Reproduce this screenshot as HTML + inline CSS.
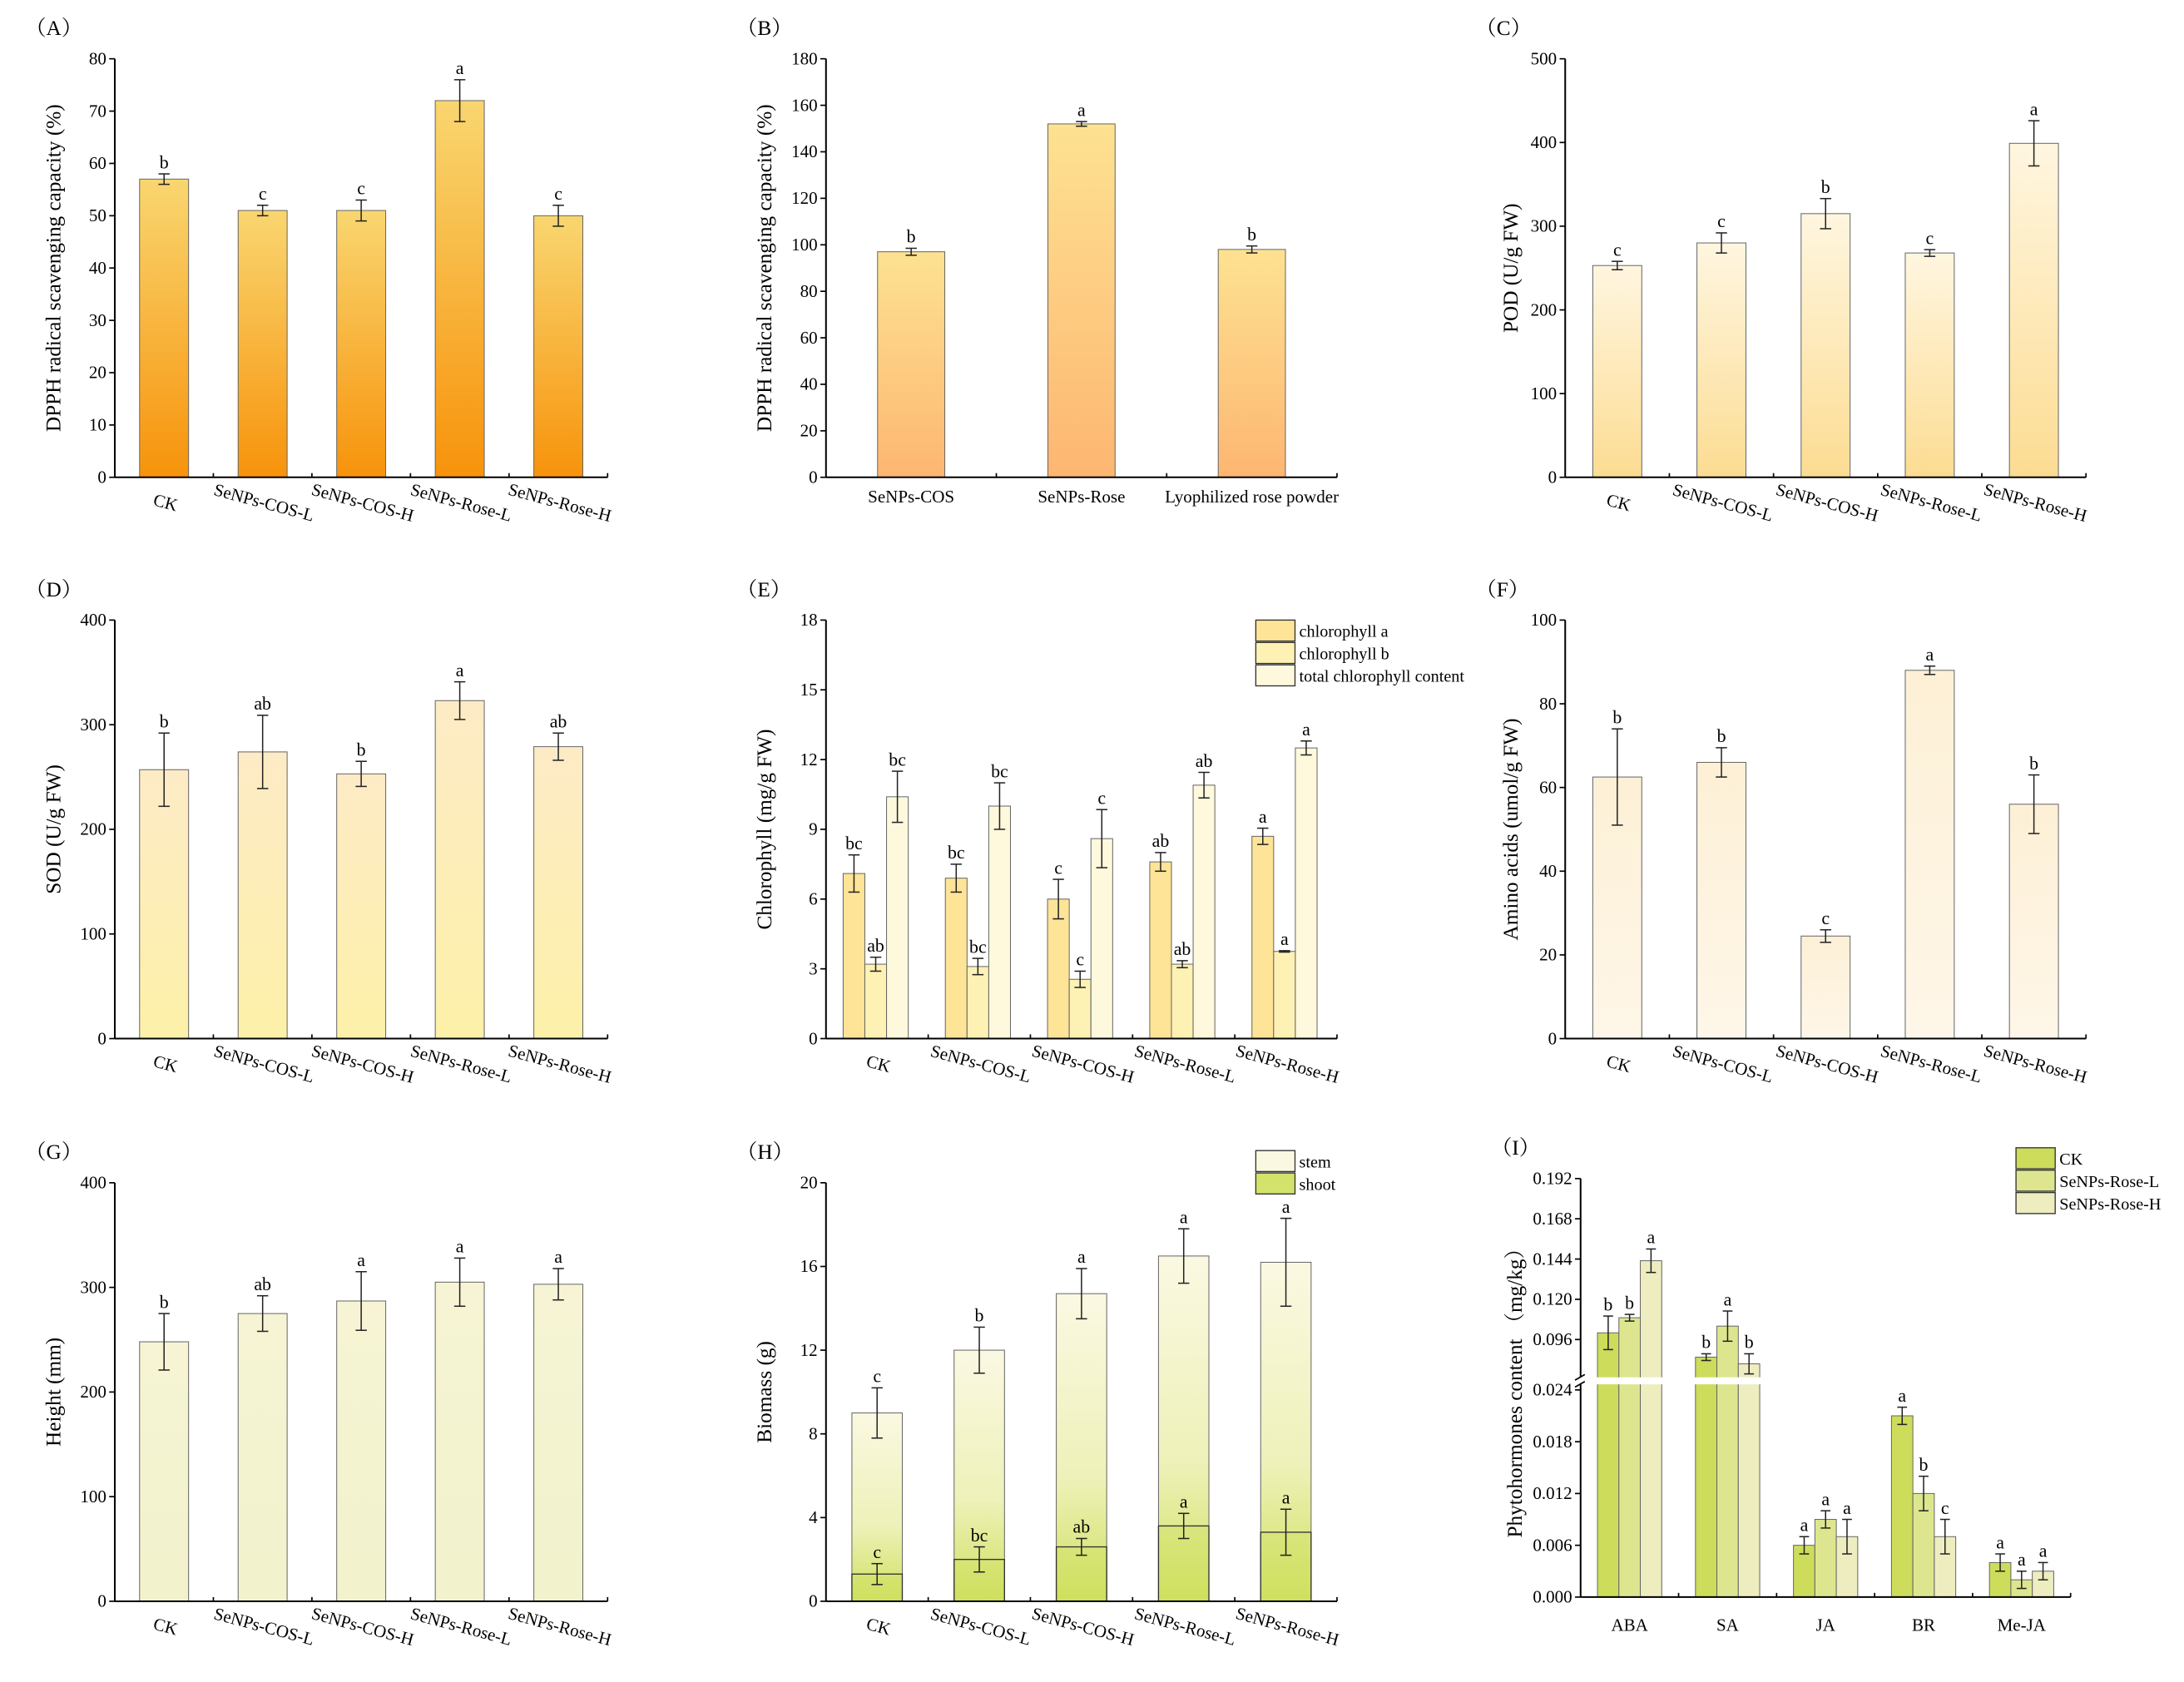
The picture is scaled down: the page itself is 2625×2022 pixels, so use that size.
<!DOCTYPE html>
<html><head><meta charset="utf-8"><style>
html,body{margin:0;padding:0;background:#fff;}
svg, svg text{font-family:"Liberation Serif","Times New Roman",Times,"Noto Serif CJK SC",serif;}
</style></head><body>
<svg id="fig" xmlns="http://www.w3.org/2000/svg" width="2625" height="2017" viewBox="0 0 1560 1198.7" preserveAspectRatio="none" font-family="Liberation Serif, Times New Roman, serif">
<defs>
<linearGradient id="gA" x1="0" y1="0" x2="0" y2="1"><stop offset="0" stop-color="#f9d670"/><stop offset="1" stop-color="#f7930b"/></linearGradient>
<linearGradient id="gB" x1="0" y1="0" x2="0" y2="1"><stop offset="0" stop-color="#fde291"/><stop offset="1" stop-color="#fdb672"/></linearGradient>
<linearGradient id="gC" x1="0" y1="0" x2="0" y2="1"><stop offset="0" stop-color="#fff6e0"/><stop offset="1" stop-color="#fcdc92"/></linearGradient>
<linearGradient id="gD" x1="0" y1="0" x2="0" y2="1"><stop offset="0" stop-color="#fdebc6"/><stop offset="1" stop-color="#fdf0a8"/></linearGradient>
<linearGradient id="gF" x1="0" y1="0" x2="0" y2="1"><stop offset="0" stop-color="#fdf0d6"/><stop offset="1" stop-color="#fef6e8"/></linearGradient>
<linearGradient id="gG" x1="0" y1="0" x2="0" y2="1"><stop offset="0" stop-color="#f6f4d4"/><stop offset="1" stop-color="#f2f2cc"/></linearGradient>
<linearGradient id="gH" x1="0" y1="0" x2="0" y2="1"><stop offset="0" stop-color="#fbf8e2"/><stop offset="0.6" stop-color="#eef1b8"/><stop offset="1" stop-color="#cfe05e"/></linearGradient>
</defs>
</svg>
<script>
const catsMain = ["CK","SeNPs-COS-L","SeNPs-COS-H","SeNPs-Rose-L","SeNPs-Rose-H"];
const valsA = [57,51,51,72,50];
const errA = [1,1,2,4,2];
const letA = ["b","c","c","a","c"];
const ticksA = [0,10,20,30,40,50,60,70,80];
const catsB = ["SeNPs-COS","SeNPs-Rose","Lyophilized  rose powder"];
const valsB = [97,152,98];
const errB = [1.5,1,1.5];
const letB = ["b","a","b"];
const ticksB = [0,20,40,60,80,100,120,140,160,180];
const valsC = [253,280,315,268,399];
const errC = [5,12,18,4,27];
const letC = ["c","c","b","c","a"];
const ticksC = [0,100,200,300,400,500];
const valsD = [257,274,253,323,279];
const errD = [35,35,12,18,13];
const letD = ["b","ab","b","a","ab"];
const ticksD = [0,100,200,300,400];
const chlA = [7.1,6.9,6.0,7.6,8.7];
const chlAErr = [0.8,0.6,0.85,0.4,0.35];
const chlALet = ["bc","bc","c","ab","a"];
const chlB = [3.2,3.1,2.55,3.2,3.75];
const chlBErr = [0.3,0.35,0.35,0.15,0.03];
const chlBLet = ["ab","bc","c","ab","a"];
const chlT = [10.4,10.0,8.6,10.9,12.5];
const chlTErr = [1.1,1.0,1.25,0.55,0.3];
const chlTLet = ["bc","bc","c","ab","a"];
const ticksE = [0,3,6,9,12,15,18];
const valsF = [62.5,66,24.5,88,56];
const errF = [11.5,3.5,1.5,1,7];
const letF = ["b","b","c","a","b"];
const ticksF = [0,20,40,60,80,100];
const valsG = [248,275,287,305,303];
const errG = [27,17,28,23,15];
const letG = ["b","ab","a","a","a"];
const ticksG = [0,100,200,300,400];
const stemH = [9.0,12.0,14.7,16.5,16.2];
const stemErr = [1.2,1.1,1.2,1.3,2.1];
const stemLet = ["c","b","a","a","a"];
const shootH = [1.3,2.0,2.6,3.6,3.3];
const shootErr = [0.5,0.6,0.4,0.6,1.1];
const shootLet = ["c","bc","ab","a","a"];
const ticksH = [0,4,8,12,16,20];
const catsI = ["ABA","SA","JA","BR","Me-JA"];
const iCK = [0.100,0.0855,0.006,0.021,0.004];
const iCKErr = [0.010,0.002,0.001,0.001,0.001];
const iCKLet = ["b","b","a","a","a"];
const iL = [0.109,0.104,0.009,0.012,0.002];
const iLErr = [0.002,0.009,0.001,0.002,0.001];
const iLLet = ["b","a","a","b","a"];
const iH = [0.143,0.0815,0.007,0.007,0.003];
const iHErr = [0.007,0.006,0.002,0.002,0.001];
const iHLet = ["a","b","a","c","a"];
const ticksILow = [0,0.006,0.012,0.018,0.024];
const ticksIHigh = [0.096,0.120,0.144,0.168,0.192];

const svg = document.getElementById('fig');
const NS = "http://www.w3.org/2000/svg";
const FONT = "Liberation Serif, Times New Roman, Times, Noto Serif CJK SC, serif";
function el(tag, attrs, parent){const e=document.createElementNS(NS,tag);for(const k in attrs)e.setAttribute(k,attrs[k]);(parent||svg).appendChild(e);return e;}
function txt(s, attrs, parent){attrs['font-family']=FONT;const e=el('text',attrs,parent);e.textContent=s;return e;}

function makePanel(name, label, xl, xr, yt, yb, min, max, n){
  const g = el('g',{});
  
  
  const p = {g,xl,xr,yt,yb,min,max,n};
  p.y = v => yb - (v-min)/(max-min)*(yb-yt);
  p.cx = i => xl + (i+0.5)*(xr-xl)/n;
  p.cw = (xr-xl)/n;
  const lab = txt(label,{x:xl-64,y:yt-17,'font-size':15},g);
  
  
  return p;
}
function axes(p, ticks, fmt, title, titleX){
  const g=p.g;
  const ya = el('line',{x1:p.xl,y1:p.yt,x2:p.xl,y2:p.yb,stroke:'#000','stroke-width':1.2},g);
  
  
  const xa = el('line',{x1:p.xl,y1:p.yb,x2:p.xr,y2:p.yb,stroke:'#000','stroke-width':1.2},g);
  
  
  ticks.forEach(t=>{
    const y=p.y(t);
    el('line',{x1:p.xl-4,y1:y,x2:p.xl,y2:y,stroke:'#000','stroke-width':1},g);
    const tl = txt(fmt(t),{x:p.xl-6,y:y+4,'font-size':12.5,'text-anchor':'end'},g);
    
    
  });
  for(let i=1;i<=p.n;i++){const x=p.xl+i*p.cw;el('line',{x1:x,y1:p.yb,x2:x,y2:p.yb-3,stroke:'#000','stroke-width':1},g);}
  const mid=(p.yt+p.yb)/2;
  const t = txt(title,{x:titleX,y:mid,'font-size':15,'text-anchor':'middle',transform:`rotate(-90 ${titleX} ${mid})`},g);
  
  
}
function rotLabels(p, cats){
  cats.forEach((c,i)=>{
    const x=p.cx(i), y=p.yb+22;
    const t=txt(c,{x:x,y:y,'font-size':12.5,'text-anchor':'middle',transform:`rotate(15 ${x} ${y})`},p.g);
    
    
  });
}
function flatLabels(p, cats, dy){
  cats.forEach((c,i)=>{
    const t=txt(c,{x:p.cx(i),y:p.yb+(dy||18),'font-size':12.5,'text-anchor':'middle','xml:space':'preserve'},p.g);
    
    
  });
}
function bar(p, x, w, v, fill, name, yfun){
  const yf = yfun||p.y;
  const r = el('rect',{x:x-w/2,y:yf(v),width:w,height:p.yb-yf(v),fill:fill,stroke:'#666','stroke-width':0.6},p.g);
  
  
  return r;
}
function errbar(p, x, v, e, letter, yfun, capW){
  const yf=yfun||p.y; const c=(capW||8)/2;
  const y1=yf(v+e), y2=yf(v-e);
  el('line',{x1:x,y1:y1,x2:x,y2:y2,stroke:'#222','stroke-width':0.9},p.g);
  el('line',{x1:x-c,y1:y1,x2:x+c,y2:y1,stroke:'#222','stroke-width':0.9},p.g);
  el('line',{x1:x-c,y1:y2,x2:x+c,y2:y2,stroke:'#222','stroke-width':0.9},p.g);
  if(letter){const t=txt(letter,{x:x,y:y1-4,'font-size':13,'text-anchor':'middle'},p.g);
    
    }
}
function simple(name,label,xl,xr,yt,yb,ticks,vals,errs,lets,grad,title,titleX,cats,bw,rot){
  const p=makePanel(name,label,xl,xr,yt,yb,ticks[0],ticks[ticks.length-1],vals.length);
  vals.forEach((v,i)=>{bar(p,p.cx(i),bw,v,grad,'bar-'+i);errbar(p,p.cx(i),v,errs[i],lets[i]);});
  axes(p,ticks,t=>String(t),title,titleX);
  if(rot) rotLabels(p,cats); else flatLabels(p,cats);
  return p;
}
function legend(p, x, y, items){
  items.forEach((it,i)=>{
    const r=el('rect',{x:x,y:y+i*16,width:28,height:15,fill:it[1],stroke:'#333','stroke-width':0.8},p.g);
    
    
    const t=txt(it[0],{x:x+31,y:y+i*16+12,'font-size':12},p.g);
    
    
  });
}

// Row 1
simple('panel-a','（A）',82,434,42,341,ticksA,valsA,errA,letA,'url(#gA)','DPPH radical scavenging capacity (%)',43,catsMain,35,true);
simple('panel-b','（B）',590,955,42,341,ticksB,valsB,errB,letB,'url(#gB)','DPPH radical scavenging capacity (%)',551,catsB,48,false);
simple('panel-c','（C）',1118,1490,42,341,ticksC,valsC,errC,letC,'url(#gC)','POD (U/g FW)',1084,catsMain,35,true);
// Row 2
simple('panel-d','（D）',82,434,443,742,ticksD,valsD,errD,letD,'url(#gD)','SOD (U/g FW)',43,catsMain,35,true);
(function(){
  const p=makePanel('panel-e','（E）',590,955,443,742,0,18,5);
  const bw=15.5;
  for(let i=0;i<5;i++){
    const c=p.cx(i)-1;
    bar(p,c-bw,bw,chlA[i],'#fde497','bar-chlorophyll-a-'+i);
    bar(p,c,bw,chlB[i],'#fdf1b4','bar-chlorophyll-b-'+i);
    bar(p,c+bw,bw,chlT[i],'#fef9dc','bar-total-chlorophyll-'+i);
    errbar(p,c-bw,chlA[i],chlAErr[i],chlALet[i]);
    errbar(p,c,chlB[i],chlBErr[i],chlBLet[i]);
    errbar(p,c+bw,chlT[i],chlTErr[i],chlTLet[i]);
  }
  axes(p,ticksE,t=>String(t),'Chlorophyll (mg/g FW)',551);
  rotLabels(p,catsMain);
  legend(p,897,443,[['chlorophyll a','#fde497'],['chlorophyll b','#fdf1b4'],['total chlorophyll content','#fef9dc']]);
})();
simple('panel-f','（F）',1118,1490,443,742,ticksF,valsF,errF,letF,'url(#gF)','Amino acids (umol/g FW)',1084,catsMain,35,true);
// Row 3
simple('panel-g','（G）',82,434,845,1144,ticksG,valsG,errG,letG,'url(#gG)','Height (mm)',43,catsMain,35,true);
(function(){
  const p=makePanel('panel-h','（H）',590,955,845,1144,0,20,5);
  for(let i=0;i<5;i++){
    const c=p.cx(i);
    bar(p,c,36,stemH[i],'url(#gH)','bar-stem-'+i);
    const r=el('rect',{x:c-18,y:p.y(shootH[i]),width:36,height:p.yb-p.y(shootH[i]),fill:'#cfe05e','fill-opacity':0.35,stroke:'#333','stroke-width':0.8},p.g);
    
    
    errbar(p,c,stemH[i],stemErr[i],stemLet[i]);
    errbar(p,c,shootH[i],shootErr[i],shootLet[i]);
  }
  axes(p,ticksH,t=>String(t),'Biomass (g)',551);
  rotLabels(p,catsMain);
  legend(p,897,822,[['stem','#fbf8e2'],['shoot','#d3e26a']]);
})();
(function(){
  const xl=1129,xr=1479,yb=1141,yt=842;
  const p=makePanel('panel-i','（I）',xl,xr,yt,yb,0,0.192,5);
  const yLowTop=993;
  const yf = v => v<=0.024 ? yb-(v/0.024)*(yb-yLowTop) : 957-(v-0.096)/0.096*115;
  p.y=yf;
  const bw=15.3;
  const series=[[iCK,iCKErr,iCKLet,'#cddc5a'],[iL,iLErr,iLLet,'#dde68f'],[iH,iHErr,iHLet,'#eeedc0']];
  for(let i=0;i<5;i++){
    series.forEach((s,k)=>{
      const x=p.cx(i)+(k-1)*bw;
      bar(p,x,bw,s[0][i],s[3],'bar-'+catsI[i]+'-'+k,yf);
      errbar(p,x,s[0][i],s[1][i],s[2][i],yf,7);
    });
  }
  const gap=el('rect',{x:xl-6,y:984,width:xr-xl+8,height:5,fill:'#fff'},p.g);
  
  
  const g=p.g;
  el('line',{x1:xl,y1:yt,x2:xl,y2:984,stroke:'#000','stroke-width':1.2},g);
  el('line',{x1:xl,y1:989,x2:xl,y2:yb,stroke:'#000','stroke-width':1.2},g);
  el('line',{x1:xl-4,y1:986,x2:xl+3,y2:982,stroke:'#000','stroke-width':1},g);
  el('line',{x1:xl-4,y1:991,x2:xl+3,y2:987,stroke:'#000','stroke-width':1},g);
  el('line',{x1:xl,y1:yb,x2:xr,y2:yb,stroke:'#000','stroke-width':1.2},g);
  ticksILow.concat(ticksIHigh).forEach(t=>{
    const y=yf(t);
    el('line',{x1:xl-4,y1:y,x2:xl,y2:y,stroke:'#000','stroke-width':1},g);
    const tl=txt(t.toFixed(3),{x:xl-6,y:y+4,'font-size':12.5,'text-anchor':'end'},g);
    
    
  });
  for(let i=1;i<=5;i++){const x=xl+i*p.cw;el('line',{x1:x,y1:yb,x2:x,y2:yb-3,stroke:'#000','stroke-width':1},g);}
  const mid=(yt+yb)/2, tx=1087;
  const t=txt('Phytohormones content （mg/kg）',{x:tx,y:mid,'font-size':15,'text-anchor':'middle',transform:`rotate(-90 ${tx} ${mid})`},g);
  
  
  flatLabels(p,catsI,24);
  legend(p,1440,820,[['CK','#cddc5a'],['SeNPs-Rose-L','#dde68f'],['SeNPs-Rose-H','#eeedc0']]);
})();
</script>
</body></html>
